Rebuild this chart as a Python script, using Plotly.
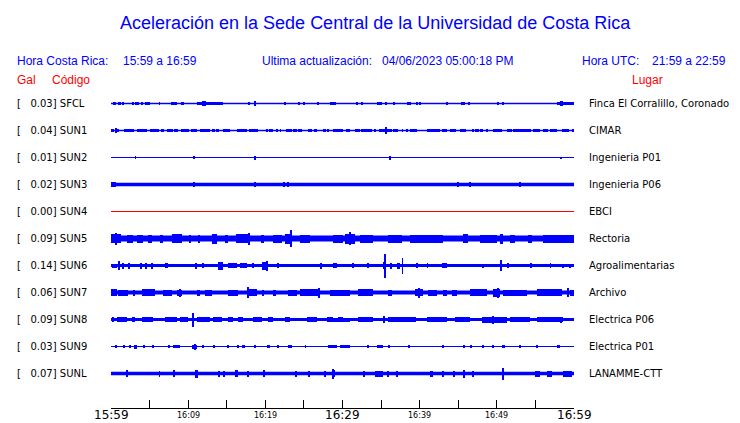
import plotly.graph_objects as go

# ---------------- data ----------------
STATION_CODES = ["SFCL", "SUN1", "SUN2", "SUN3", "SUN4", "SUN5", "SUN6", "SUN7", "SUN8", "SUN9", "SUNL"]
GAL_VALUES = [0.03, 0.04, 0.01, 0.02, 0.00, 0.09, 0.14, 0.06, 0.09, 0.03, 0.07]
PLACE_NAMES = ["Finca El Corralillo, Coronado", "CIMAR", "Ingenieria P01", "Ingenieria P06", "EBCI",
               "Rectoria", "Agroalimentarias", "Archivo", "Electrica P06", "Electrica P01", "LANAMME-CTT"]
TRACE_COLORS = ["#0000ff", "#0000ff", "#0000ff", "#0000ff", "#ff0000", "#0000ff",
                "#0000ff", "#0000ff", "#0000ff", "#0000ff", "#0000ff"]

# background (noise) half-amplitude of each trace, relative units
BASE_AMPLITUDE = [0.7, 0.7, 0.5, 1.8, 0.5, 3.1, 1.4, 2.0, 1.6, 0.6, 1.8]

# bursts: [start minute, end minute, half-amplitude] (minutes after 15:59)
SFCL_BURSTS = [[0.26, 0.65, 1.5], [0.91, 1.3, 1.5], [1.43, 1.68, 1.5], [2.72, 2.98, 1.3], [3.11, 3.63, 1.5],
               [3.89, 4.15, 1.3], [4.41, 5.05, 1.5], [6.22, 6.35, 1.5], [7.78, 8.55, 1.6], [9.07, 9.46, 1.6],
               [11.15, 14.51, 1.5], [11.79, 12.31, 2.8], [17.76, 17.89, 1.2], [18.53, 18.79, 2.8],
               [22.42, 22.55, 1.2], [24.36, 24.49, 1.2], [25.01, 25.14, 1.2], [26.7, 26.83, 1.2],
               [28.38, 29.16, 1.5], [31.75, 31.88, 1.2], [32.4, 32.66, 1.2], [34.47, 35.12, 1.6],
               [35.51, 35.64, 1.2], [36.67, 36.8, 1.2], [38.36, 38.88, 1.6], [39.53, 39.66, 1.2],
               [39.91, 40.17, 1.6], [43.54, 43.67, 1.2], [45.36, 45.88, 1.8], [46.27, 46.4, 1.2],
               [50.02, 50.28, 1.2], [50.67, 50.8, 1.6], [57.8, 60.0, 1.8], [58.19, 58.57, 2.8]]
SUN1_BURSTS = [[0.0, 0.39, 1.7], [0.52, 0.65, 2.8], [0.65, 1.04, 1.7], [1.68, 2.72, 1.7], [2.85, 2.98, 1.5],
               [3.37, 3.89, 1.7], [3.89, 4.67, 1.7], [5.05, 6.22, 1.7], [6.48, 6.87, 1.7], [7.26, 8.03, 1.7],
               [8.16, 8.68, 1.7], [9.07, 10.11, 1.7], [10.37, 11.15, 1.7], [11.53, 12.83, 1.7],
               [13.09, 13.48, 1.7], [13.61, 14.0, 1.7], [14.51, 15.42, 1.7], [16.33, 17.63, 1.7],
               [17.88, 19.05, 1.7], [20.09, 20.35, 1.7], [20.48, 21.0, 1.7], [21.51, 21.64, 1.5],
               [21.9, 22.03, 1.5], [22.68, 23.46, 1.7], [23.59, 24.1, 1.7], [24.23, 24.75, 1.7],
               [25.53, 26.05, 1.7], [26.31, 26.7, 1.7], [27.48, 27.86, 1.7], [28.12, 28.25, 1.5],
               [28.77, 30.07, 1.7], [30.45, 30.97, 1.7], [31.62, 32.27, 1.7], [32.4, 33.82, 1.7],
               [34.21, 34.34, 1.5], [34.73, 36.41, 1.7], [35.51, 35.64, 3.2], [36.54, 37.19, 1.7],
               [37.71, 37.84, 1.5], [38.23, 38.49, 1.7], [38.75, 39.66, 1.7], [40.95, 42.64, 1.7],
               [42.9, 43.54, 1.7], [43.93, 44.71, 1.7], [45.23, 46.0, 1.7], [46.79, 46.92, 1.5],
               [47.17, 47.69, 1.7], [47.82, 48.21, 1.7], [48.6, 48.73, 1.5], [49.5, 50.67, 1.7],
               [51.32, 51.97, 1.7], [52.1, 54.43, 1.7], [54.69, 55.6, 1.7], [55.98, 56.63, 1.7],
               [56.89, 57.8, 1.7], [58.45, 59.35, 1.7], [59.74, 60.0, 1.7]]
SUN2_BURSTS = [[3.11, 3.24, 1.5], [10.63, 10.76, 1.5], [18.66, 18.79, 2.0], [36.03, 36.16, 2.0],
               [58.19, 58.32, 1.0]]
SUN3_BURSTS = [[0.0, 0.65, 2.4], [10.63, 10.76, 2.8], [18.66, 18.79, 2.8],
               [22.29, 22.42, 2.8], [22.81, 22.94, 2.8], [44.84, 44.97, 2.8], [46.4, 46.53, 2.5],
               [52.88, 53.0, 2.5]]
SUN4_BURSTS = []
SUN5_BURSTS = [[0.0, 1.3, 4.5], [0.52, 0.78, 6.0], [2.07, 2.85, 4.0], [3.37, 4.15, 4.0], [4.8, 5.3, 4.0],
               [6.35, 6.74, 4.0], [7.91, 9.2, 4.5], [10.11, 10.37, 4.0], [11.27, 11.53, 4.0],
               [13.09, 13.74, 5.0], [14.77, 15.16, 4.0], [16.2, 18.01, 4.5], [17.88, 18.01, 6.0],
               [19.44, 19.83, 4.0], [21.0, 22.16, 4.0], [22.55, 23.46, 5.0], [23.2, 23.33, 8.5],
               [24.49, 25.79, 4.0], [28.77, 30.07, 4.0], [30.33, 31.62, 5.0], [30.97, 31.1, 6.5],
               [32.27, 33.95, 4.0], [35.9, 37.71, 4.0], [38.75, 43.03, 4.0], [45.62, 46.27, 4.5],
               [47.82, 50.02, 4.0], [50.41, 50.8, 5.0], [51.71, 52.36, 4.0], [54.04, 54.56, 4.0],
               [55.98, 60.0, 4.0]]
SUN6_BURSTS = [[0.13, 0.78, 2.0], [0.91, 1.04, 4.5], [1.43, 1.56, 3.0], [2.2, 2.46, 3.0], [3.76, 3.89, 3.0],
               [4.41, 4.67, 3.0], [5.31, 5.44, 3.0], [7.0, 7.39, 2.5], [10.89, 11.02, 3.0], [11.92, 12.05, 2.2],
               [13.87, 14.51, 4.0], [15.16, 16.33, 2.5], [16.72, 17.63, 2.5], [18.4, 18.53, 2.2],
               [19.57, 20.22, 4.0], [20.09, 20.22, 5.0], [21.64, 21.77, 2.2], [27.09, 27.22, 3.0],
               [28.77, 29.29, 2.5], [31.36, 31.49, 2.5], [33.18, 33.31, 2.2], [35.25, 35.51, 3.5],
               [35.38, 35.51, 12.0], [36.16, 36.29, 3.0], [37.06, 37.45, 3.0], [37.71, 37.84, 8.0],
               [39.53, 39.66, 2.2], [40.95, 41.08, 2.2], [42.9, 43.54, 2.5], [48.08, 48.21, 2.0],
               [50.41, 50.67, 5.5], [51.32, 51.45, 2.5], [54.3, 54.43, 2.2], [56.89, 57.02, 2.2],
               [58.57, 58.7, 2.0], [59.48, 59.61, 2.0]]
SUN7_BURSTS = [[0.0, 0.78, 3.5], [0.91, 2.2, 3.0], [2.85, 3.11, 3.0], [4.02, 5.7, 3.5], [6.74, 7.91, 3.0],
               [8.55, 9.2, 3.0], [8.94, 9.07, 4.0], [11.15, 11.53, 3.0], [12.18, 13.09, 3.0],
               [15.16, 16.46, 3.0], [17.63, 18.92, 3.5], [17.63, 17.76, 5.5], [19.57, 19.7, 3.0],
               [21.0, 21.4, 3.0], [22.94, 24.1, 3.0], [24.49, 27.09, 3.5], [26.83, 26.96, 5.0],
               [28.38, 30.97, 3.0], [32.01, 33.95, 3.5], [35.9, 36.41, 3.0], [39.4, 40.43, 3.5],
               [39.79, 39.92, 5.0], [41.08, 42.25, 3.0], [43.0, 43.6, 3.0], [44.2, 44.8, 3.0],
               [46.53, 48.73, 3.5], [49.5, 50.41, 4.0], [50.15, 50.28, 5.0], [50.8, 53.91, 3.0],
               [55.2, 58.45, 3.5], [59.22, 59.35, 4.5], [59.48, 60.0, 3.0]]
SUN8_BURSTS = [[0.13, 0.26, 2.5], [0.78, 2.07, 2.5], [2.72, 3.11, 2.5], [4.02, 5.44, 2.5], [7.0, 8.55, 2.5],
               [8.94, 9.98, 2.5], [10.5, 10.63, 7.0], [11.15, 12.83, 2.5], [13.22, 14.38, 2.5],
               [15.16, 15.8, 2.5], [16.46, 17.11, 2.5], [18.4, 19.57, 2.5], [20.35, 21.0, 2.5],
               [22.55, 23.2, 2.5], [25.4, 26.7, 2.5], [27.99, 28.77, 2.5], [28.38, 30.97, 2.0],
               [29.42, 30.07, 2.5], [32.01, 33.95, 2.5], [35.25, 35.38, 3.5], [35.9, 39.53, 2.5],
               [40.95, 43.54, 2.5], [44.58, 46.53, 2.5], [48.08, 51.32, 3.0], [49.5, 49.63, 4.0],
               [51.71, 54.3, 2.5], [55.2, 58.57, 2.5], [58.19, 58.32, 3.0]]
SUN9_BURSTS = [[0.52, 0.65, 1.3], [1.56, 1.69, 1.3], [2.46, 2.59, 1.3], [2.98, 3.37, 2.0], [4.15, 4.28, 1.3],
               [5.44, 5.57, 1.3], [7.39, 7.52, 1.3], [8.03, 8.94, 1.5], [10.5, 11.15, 2.0], [10.8, 10.93, 3.0],
               [11.92, 12.05, 1.3], [13.22, 13.35, 1.3], [15.16, 15.29, 1.3], [16.33, 16.46, 1.3],
               [16.98, 17.37, 1.5], [18.66, 18.79, 1.3], [20.22, 20.61, 1.5], [21.64, 21.77, 1.3],
               [22.94, 23.46, 1.5], [25.14, 25.27, 1.3], [28.12, 28.64, 1.5], [28.38, 29.29, 1.5],
               [29.68, 30.97, 1.5], [33.18, 33.31, 1.3], [34.47, 35.25, 1.5], [35.9, 36.16, 1.5],
               [38.49, 38.62, 1.3], [42.9, 43.03, 1.3], [45.62, 45.75, 1.3], [46.53, 46.66, 1.3],
               [48.08, 48.21, 1.3], [49.5, 49.63, 1.3], [50.67, 51.06, 1.5], [53.0, 53.13, 1.3],
               [55.2, 55.33, 1.3], [57.8, 58.19, 1.3]]
SUNL_BURSTS = [[2.07, 2.2, 3.5], [6.22, 6.35, 3.0], [8.03, 8.29, 3.5], [10.89, 11.27, 4.0], [13.87, 14.0, 3.0],
               [14.51, 14.77, 3.0], [16.07, 16.46, 3.5], [17.63, 17.76, 3.0], [19.7, 19.96, 3.5],
               [23.85, 23.98, 3.0], [25.53, 25.66, 3.0], [27.73, 27.86, 3.0], [28.64, 28.77, 5.0],
               [28.77, 28.9, 3.5], [32.66, 32.79, 3.0], [34.21, 35.25, 3.0], [35.77, 35.9, 3.0],
               [37.06, 37.19, 3.0], [41.34, 41.73, 3.0], [42.9, 43.03, 3.0], [44.32, 44.45, 3.0],
               [45.62, 45.88, 4.0], [46.91, 47.04, 3.0], [50.67, 50.93, 6.0], [54.95, 55.6, 3.0],
               [56.5, 57.15, 3.0], [58.57, 59.74, 3.0]]
STATION_BURSTS = [SFCL_BURSTS, SUN1_BURSTS, SUN2_BURSTS, SUN3_BURSTS, SUN4_BURSTS, SUN5_BURSTS,
                  SUN6_BURSTS, SUN7_BURSTS, SUN8_BURSTS, SUN9_BURSTS, SUNL_BURSTS]

TIME_SPAN = [0, 60]
TICK_MINUTES = [0, 5, 10, 15, 20, 25, 30, 35, 40, 45, 50, 55, 60]
LABEL_MINUTES = [0, 10, 20, 30, 40, 50, 60]
LABEL_TEXT = ["15:59", "16:09", "16:19", "16:29", "16:39", "16:49", "16:59"]
LABEL_MAJOR = [True, False, False, True, False, False, True]

TITLE = "Aceleración en la Sede Central de la Universidad de Costa Rica"
HDR_LOCAL_LABEL = "Hora Costa Rica:"
HDR_LOCAL_RANGE = "15:59 a 16:59"
HDR_UPDATE_LABEL = "Ultima actualización:"
HDR_UPDATE_VALUE = "04/06/2023 05:00:18 PM"
HDR_UTC_LABEL = "Hora UTC:"
HDR_UTC_RANGE = "21:59 a 22:59"

# ---------------- layout geometry ----------------
W, H = 740, 423
PL, PR, PT, PB = 111, 574, 90, 408
ROW0_PX, ROW_PX = 103.5, 27
AMP_SCALE = 1.0 / ROW_PX  # relative amplitude units -> row units

def pxx(px):
    return (px - PL) / (PR - PL)

def pxy(py):
    return (PB - py) / (PB - PT)

fig = go.Figure()

for i, code in enumerate(STATION_CODES):
    color = TRACE_COLORS[i]
    b = BASE_AMPLITUDE[i]
    fig.add_trace(go.Scatter(x=TIME_SPAN, y=[i, i], mode="lines",
                             line=dict(color=color, width=max(1.0, 2 * b)),
                             showlegend=False, hoverinfo="skip"))
    bursts = STATION_BURSTS[i]
    if bursts:
        xs = [(t0 + t1) / 2 for t0, t1, a in bursts]
        ws = [max(t1 - t0, 0.13) for t0, t1, a in bursts]
        hs = [2 * a * AMP_SCALE for t0, t1, a in bursts]
        bs = [i - a * AMP_SCALE for t0, t1, a in bursts]
        fig.add_trace(go.Bar(x=xs, y=hs, base=bs, width=ws,
                             marker=dict(color=color, line=dict(width=0)),
                             showlegend=False, hoverinfo="skip"))

ann = []
txt_font = dict(family="DejaVu Sans", size=10, color="black")
for i, code in enumerate(STATION_CODES):
    ann.append(dict(x=pxx(15), y=i, xref="paper", yref="y", xanchor="left", yanchor="middle",
                    text="[\u00a0\u00a0\u00a0%.2f]\u00a0%s" % (GAL_VALUES[i], code),
                    showarrow=False, font=txt_font))
    ann.append(dict(x=pxx(587), y=i, xref="paper", yref="y", xanchor="left", yanchor="middle",
                    text=PLACE_NAMES[i], showarrow=False, font=txt_font))

for m, t, major in zip(LABEL_MINUTES, LABEL_TEXT, LABEL_MAJOR):
    ann.append(dict(x=m, y=pxy(415), xref="x", yref="paper", xanchor="center", yanchor="middle",
                    text=t, showarrow=False,
                    font=dict(family="DejaVu Sans", size=12 if major else 8, color="black")))

blue = "#0000ff"
red = "#ff0000"
hf = dict(family="Liberation Sans, Arial", size=12, color=blue)
rf = dict(family="Liberation Sans, Arial", size=12, color=red)
ann.append(dict(x=pxx(375.5), y=pxy(23), xref="paper", yref="paper", xanchor="center", yanchor="middle",
                text=TITLE, showarrow=False, font=dict(family="Liberation Sans, Arial", size=18, color=blue)))
for px, text, f in [(15, HDR_LOCAL_LABEL, hf), (121, HDR_LOCAL_RANGE, hf), (260, HDR_UPDATE_LABEL, hf),
                    (380, HDR_UPDATE_VALUE, hf), (580, HDR_UTC_LABEL, hf), (650, HDR_UTC_RANGE, hf)]:
    ann.append(dict(x=pxx(px), y=pxy(61), xref="paper", yref="paper", xanchor="left", yanchor="middle",
                    text=text, showarrow=False, font=f))
for px, text in [(15, "Gal"), (50, "Código"), (630, "Lugar")]:
    ann.append(dict(x=pxx(px), y=pxy(80), xref="paper", yref="paper", xanchor="left", yanchor="middle",
                    text=text, showarrow=False, font=rf))

fig.update_layout(
    width=W, height=H,
    margin=dict(l=PL, r=W - PR, t=PT, b=H - PB, pad=0),
    paper_bgcolor="white", plot_bgcolor="white",
    barmode="overlay", bargap=0, hovermode=False,
    annotations=ann,
    xaxis=dict(range=TIME_SPAN, showgrid=False, zeroline=False, showline=True, linecolor="black",
               linewidth=1, ticks="inside", ticklen=8, tickcolor="black", tickwidth=1,
               tickvals=TICK_MINUTES, showticklabels=False, fixedrange=True),
    yaxis=dict(range=[(PB - ROW0_PX) / ROW_PX, -(ROW0_PX - PT) / ROW_PX], visible=False,
               showgrid=False, zeroline=False, fixedrange=True),
)

fig.write_html("out.html", config={"displayModeBar": False},
               post_script="document.body.style.margin='0px';document.body.style.overflow='hidden';")
